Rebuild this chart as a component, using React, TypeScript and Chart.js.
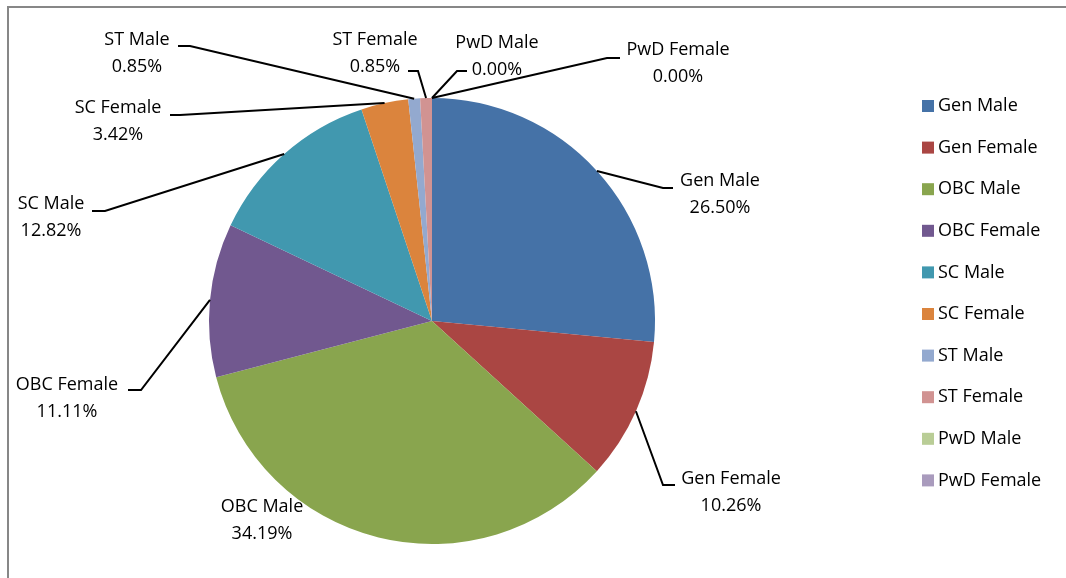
import React, { useEffect, useRef } from "react";
import { Chart, registerables } from "chart.js";

Chart.register(...registerables);

const categories = [
  "Gen Male",
  "Gen Female",
  "OBC Male",
  "OBC Female",
  "SC Male",
  "SC Female",
  "ST Male",
  "ST Female",
  "PwD Male",
  "PwD Female",
];
const percentages = [26.5, 10.26, 34.19, 11.11, 12.82, 3.42, 0.85, 0.85, 0.0, 0.0];
const colors = [
  "#4572A7",
  "#AA4643",
  "#89A54E",
  "#71588F",
  "#4198AF",
  "#DB843D",
  "#93A9CF",
  "#D19392",
  "#B9CD96",
  "#A99BBD",
];

// layout of data labels: text center and leader elbow / end (null = no leader)
const labelLayout: { cx: number; cy: number; elbow: number[] | null; end: number[] | null }[] = [
  { cx: 720, cy: 181, elbow: [663, 188], end: [673, 188] },
  { cx: 731, cy: 479, elbow: [663, 485], end: [675, 485] },
  { cx: 262, cy: 507, elbow: null, end: null },
  { cx: 67, cy: 385, elbow: [141, 390], end: [128, 390] },
  { cx: 51, cy: 204, elbow: [105, 211], end: [92, 211] },
  { cx: 118, cy: 108, elbow: [180, 115], end: [170, 115] },
  { cx: 137, cy: 40, elbow: [190, 46], end: [178, 46] },
  { cx: 375, cy: 40, elbow: [418, 71], end: [408, 71] },
  { cx: 497, cy: 43, elbow: [457, 71], end: [467, 71] },
  { cx: 678, cy: 50, elbow: [607, 58], end: [620, 58] },
];

const FONT = "18px 'Open Sans', Lato, sans-serif";

const decorPlugin = {
  id: "decor",
  afterDraw(chart: any) {
    const ctx = chart.ctx as CanvasRenderingContext2D;
    const meta = chart.getDatasetMeta(0);
    ctx.save();
    // frame
    ctx.strokeStyle = "#878787";
    ctx.lineWidth = 2;
    ctx.beginPath();
    ctx.moveTo(8, 578);
    ctx.lineTo(8, 7);
    ctx.lineTo(1066, 7);
    ctx.stroke();

    // leaders and labels
    ctx.font = FONT;
    ctx.fillStyle = "#000";
    ctx.textAlign = "center";
    ctx.textBaseline = "middle";
    meta.data.forEach((arc: any, i: number) => {
      const lay = labelLayout[i];
      const p = arc.getProps(["x", "y", "startAngle", "endAngle", "outerRadius"], true);
      const mid = (p.startAngle + p.endAngle) / 2;
      const sx = p.x + Math.cos(mid) * p.outerRadius;
      const sy = p.y + Math.sin(mid) * p.outerRadius;
      if (lay.elbow && lay.end) {
        ctx.strokeStyle = "#000";
        ctx.lineWidth = 2;
        ctx.beginPath();
        ctx.moveTo(sx, sy);
        ctx.lineTo(lay.elbow[0], lay.elbow[1]);
        ctx.lineTo(lay.end[0], lay.end[1]);
        ctx.stroke();
      }
      ctx.fillText(categories[i], lay.cx, lay.cy);
      ctx.fillText(percentages[i].toFixed(2) + "%", lay.cx, lay.cy + 27);
    });

    // legend
    ctx.textAlign = "left";
    categories.forEach((c, i) => {
      const y = 106 + i * 41.6;
      ctx.fillStyle = colors[i];
      ctx.fillRect(922, y - 6, 12, 12);
      ctx.fillStyle = "#000";
      ctx.fillText(c, 938, y);
    });
    ctx.restore();
  },
};

export default function App() {
  const ref = useRef<HTMLCanvasElement | null>(null);
  useEffect(() => {
    if (!ref.current) return;
    const chart = new Chart(ref.current, {
      type: "pie",
      data: {
        labels: categories,
        datasets: [
          {
            data: percentages,
            backgroundColor: colors,
            borderWidth: 0,
          },
        ],
      },
      options: {
        responsive: false,
        animation: false,
        devicePixelRatio: 1,
        layout: { padding: { left: 209, right: 411, top: 98, bottom: 34 } },
        plugins: {
          legend: { display: false },
          tooltip: { enabled: false },
        },
      },
      plugins: [decorPlugin],
    });
    return () => chart.destroy();
  }, []);
  return (
    <div style={{ position: "absolute", left: 0, top: 0, width: 1066, height: 578, background: "#fff" }}>
      <canvas ref={ref} width={1066} height={578} />
    </div>
  );
}
